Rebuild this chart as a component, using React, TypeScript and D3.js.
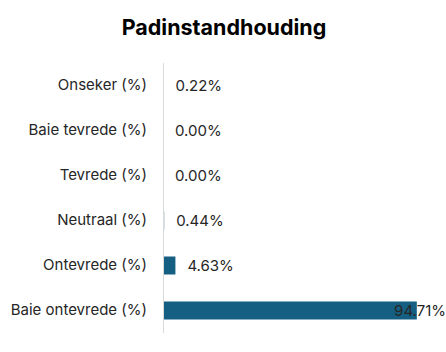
import React, { useEffect, useRef } from 'react';
import * as d3 from 'd3';

const categories = [
	'Onseker (%)',
	'Baie tevrede (%)',
	'Tevrede (%)',
	'Neutraal (%)',
	'Ontevrede (%)',
	'Baie ontevrede (%)',
];
const values = [0.22, 0.0, 0.0, 0.44, 4.63, 94.71];
const title = 'Padinstandhouding';

const App: React.FC = () => {
	const ref = useRef<SVGSVGElement>(null);

	const totalWidth = 446;
	const totalHeight = 352;
	const margin = { top: 63, right: 29, bottom: 19, left: 163 };
	const height = totalHeight - margin.top - margin.bottom;

	useEffect(() => {
		if (!ref.current) return;
		const root = d3.select(ref.current);
		root.selectAll('*').remove();

		const font = 'Inter, "Noto Sans", sans-serif';

		root
			.append('rect')
			.attr('width', totalWidth)
			.attr('height', totalHeight)
			.attr('fill', '#ffffff');

		// title
		root
			.append('text')
			.attr('x', 224)
			.attr('y', 35)
			.attr('text-anchor', 'middle')
			.style('font-family', font)
			.style('font-size', '21.5px')
			.style('font-weight', 700)
			.style('fill', '#000000')
			.text(title);

		const svg = root
			.append('g')
			.attr('transform', `translate(${margin.left},${margin.top})`);

		// --- Scales ---
		const xScale = d3.scaleLinear().domain([0, 100]).range([0, 268]);
		const yScale = d3
			.scaleBand()
			.domain(categories)
			.range([0, height])
			.paddingInner(0.6)
			.paddingOuter(0.3);

		// --- Y axis (labels only) ---
		const yAxis = d3.axisLeft(yScale).tickSize(0).tickPadding(16);
		const axisG = svg.append('g').call(yAxis);
		axisG.select('.domain').remove();
		axisG
			.selectAll('text')
			.style('font-family', font)
			.style('font-size', '15px')
			.style('fill', '#262626');

		// --- Bars ---
		svg
			.selectAll('rect.bar')
			.data(values)
			.enter()
			.append('rect')
			.attr('class', 'bar')
			.attr('x', 0)
			.attr('y', (_, i) => yScale(categories[i]) ?? 0)
			.attr('width', (d) => xScale(d))
			.attr('height', yScale.bandwidth())
			.style('fill', '#156082');

		// axis line
		svg
			.append('line')
			.attr('x1', 0.5)
			.attr('x2', 0.5)
			.attr('y1', 0)
			.attr('y2', height)
			.style('stroke', '#d9d9d9')
			.style('stroke-width', 1);

		// --- Value labels ---
		const labelRight = totalWidth - margin.left;
		svg
			.selectAll('text.val')
			.data(values)
			.enter()
			.append('text')
			.attr('class', 'val')
			.attr('y', (_, i) => (yScale(categories[i]) ?? 0) + yScale.bandwidth() / 2)
			.attr('dy', '0.35em')
			.style('font-family', font)
			.style('font-size', '15px')
			.style('fill', '#262626')
			.text((d) => `${d.toFixed(2)}%`)
			.each(function (d) {
				const el = this as SVGTextElement;
				const w = el.getComputedTextLength();
				let x = xScale(d) + 12;
				if (x + w > labelRight) x = labelRight - w;
				d3.select(el).attr('x', x);
			});
	}, []);

	return (
		<svg
			ref={ref}
			width={totalWidth}
			height={totalHeight}
			style={{ position: 'absolute', left: 0, top: 0 }}></svg>
	);
};

export default App;
